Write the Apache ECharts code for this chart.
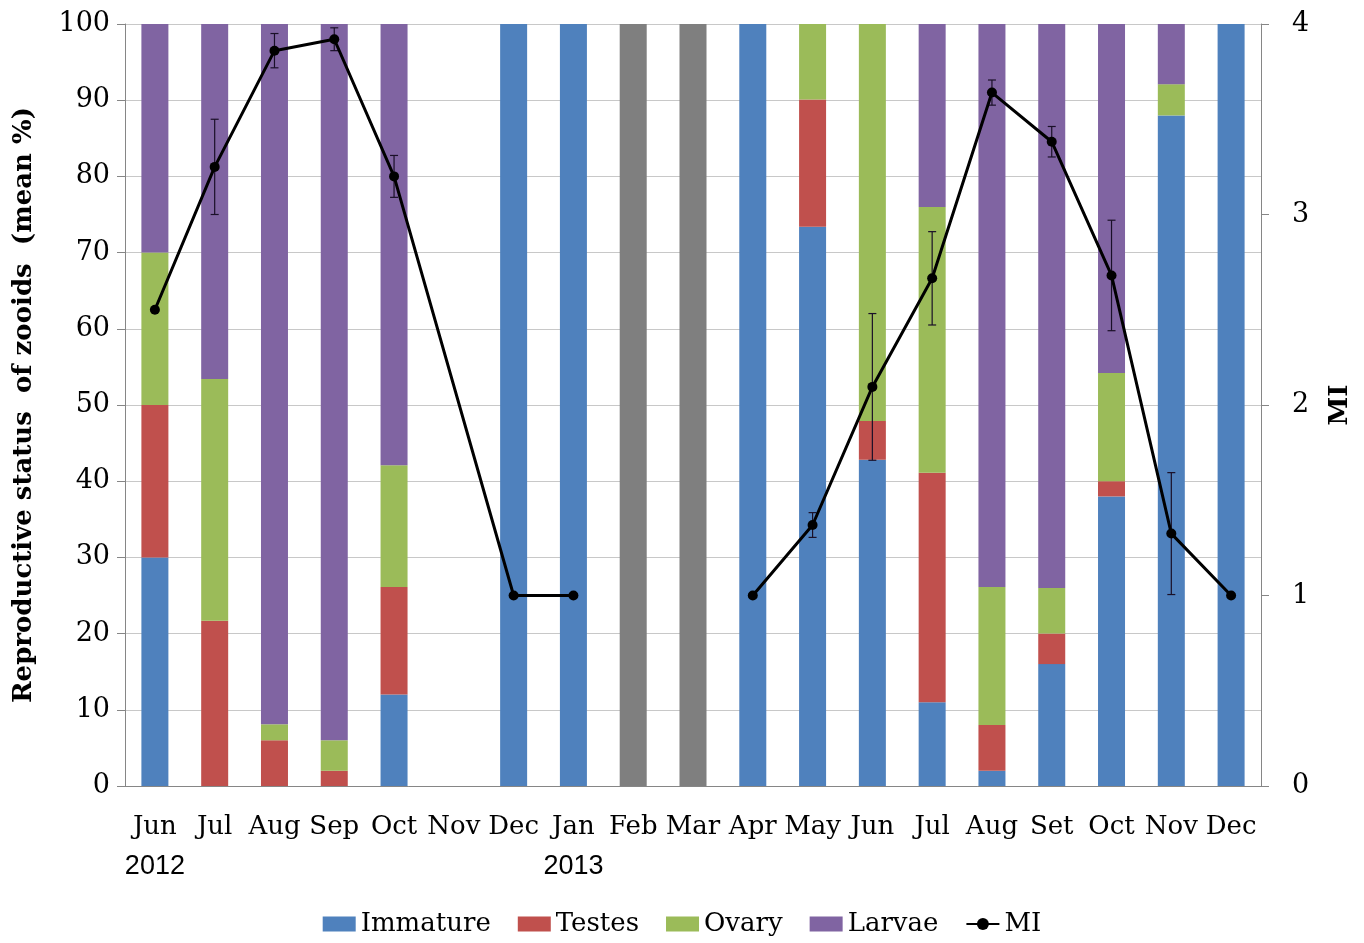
<!DOCTYPE html>
<html>
<head>
<meta charset="utf-8">
<script src="https://cdn.jsdelivr.net/npm/echarts@6/dist/echarts.min.js"></script>
<style>
  html, body { margin: 0; padding: 0; background: #fff; }
  #chart { width: 1364px; height: 943px; }
</style>
</head>
<body>
<div id="chart"></div>
<script>
// Sampling months, June 2012 to December 2013
const months = ['Jun','Jul','Aug','Sep','Oct','Nov','Dec','Jan','Feb','Mar','Apr','May','Jun','Jul','Aug','Set','Oct','Nov','Dec'];
const years  = ['2012','','','','','','','2013','','','','','','','','','','',''];

// Reproductive status of zooids (mean %), stacked
const immature = [30, 0, 0, 0, 12, null, 100, 100, null, null, 100, 73.4, 42.8, 11, 2, 16, 38, 88, 100];
const testes   = [20, 21.7, 6, 2, 14.1, null, 0, 0, null, null, 0, 16.7, 5.1, 30.1, 6, 4, 2, 0, 0];
const ovary    = [20, 31.7, 2.1, 4, 16, null, 0, 0, null, null, 0, 9.9, 52.1, 34.9, 18.1, 6, 14.2, 4.1, 0];
const larvae   = [30, 46.6, 91.9, 94, 57.9, null, 0, 0, null, null, 0, 0, 0, 24, 73.9, 74, 45.8, 7.9, 0];
const noSample = [null, null, null, null, null, null, null, null, 100, 100, null, null, null, null, null, null, null, null, null];

// Maturity index (MI) and its error
const mi      = [2.5, 3.25, 3.86, 3.92, 3.2, null, 1, 1, null, null, 1, 1.37, 2.095, 2.665, 3.64, 3.382, 2.68, 1.325, 1];
const miError = [0, 0.25, 0.09, 0.06, 0.11, 0, 0, 0, 0, 0, 0, 0.065, 0.385, 0.245, 0.066, 0.08, 0.29, 0.32, 0];

// MI is drawn as two runs: 2012 (bridging the unsampled November) and 2013
function miRun(from, to) {
  const out = [];
  for (let i = from; i <= to; i++) if (mi[i] != null) out.push([i, mi[i]]);
  return out;
}
const errData = [];
mi.forEach((v, i) => { if (v != null && miError[i] > 0) errData.push([i, v - miError[i], v + miError[i]]); });

const serif = 'DejaVu Serif';
const sans = 'Liberation Sans';
const chart = echarts.init(document.getElementById('chart'));

function barSeries(name, data, color) {
  return { name, type: 'bar', stack: 'status', data, barWidth: 27,
           itemStyle: { color }, emphasis: { disabled: true } };
}
function miLine(data) {
  return { name: 'MI', type: 'line', yAxisIndex: 1, data, z: 5,
           symbol: 'circle', symbolSize: 10,
           lineStyle: { color: '#000', width: 3 }, itemStyle: { color: '#000' } };
}

chart.setOption({
  animation: false,
  textStyle: { fontFamily: serif },
  grid: { left: 125, right: 103, top: 24, bottom: 157, containLabel: false, outerBoundsMode: 'none' },
  legend: {
    top: 906, left: 'center', itemGap: 27, itemWidth: 33, itemHeight: 15,
    textStyle: { fontFamily: serif, fontSize: 26, color: '#000' },
    data: [
      { name: 'Immature', icon: 'rect' },
      { name: 'Testes', icon: 'rect' },
      { name: 'Ovary', icon: 'rect' },
      { name: 'Larvae', icon: 'rect' },
      'MI'
    ]
  },
  xAxis: {
    type: 'category', data: months,
    axisLine: { lineStyle: { color: '#868686', width: 1 } },
    axisTick: { length: 8, lineStyle: { color: '#868686' } },
    axisLabel: {
      color: '#000', margin: 21, interval: 0,
      formatter: (v, i) => years[i] ? '{m|' + v + '}\n{y|' + years[i] + '}' : '{m|' + v + '}',
      rich: {
        m: { fontFamily: serif, fontSize: 26, lineHeight: 40, color: '#000' },
        y: { fontFamily: sans, fontSize: 27, lineHeight: 40, color: '#000' }
      }
    }
  },
  yAxis: [
    {
      type: 'value', min: 0, max: 100, interval: 10,
      name: 'Reproductive status  of zooids  (mean %)', nameLocation: 'middle', nameGap: 88, nameRotate: 90,
      nameTextStyle: { fontFamily: serif, fontWeight: 'bold', fontSize: 26, color: '#000' },
      axisLine: { show: true, lineStyle: { color: '#868686' } },
      axisTick: { show: true, length: 8, lineStyle: { color: '#868686' } },
      axisLabel: { color: '#000', fontFamily: serif, fontSize: 27, margin: 15 },
      splitLine: { lineStyle: { color: '#c8c8c8', width: 1 } }
    },
    {
      type: 'value', min: 0, max: 4, interval: 1, position: 'right',
      name: 'MI', nameLocation: 'middle', nameGap: 66, nameRotate: 90,
      nameTextStyle: { fontFamily: serif, fontWeight: 'bold', fontSize: 26, color: '#000' },
      axisLine: { show: true, lineStyle: { color: '#868686' } },
      axisTick: { show: true, length: 8, lineStyle: { color: '#868686' } },
      axisLabel: { color: '#000', fontFamily: serif, fontSize: 27, margin: 31 },
      splitLine: { show: false }
    }
  ],
  series: [
    barSeries('Immature', immature, '#4f81bd'),
    barSeries('Testes', testes, '#c0504d'),
    barSeries('Ovary', ovary, '#9bbb59'),
    barSeries('Larvae', larvae, '#8064a2'),
    barSeries('No sample', noSample, '#7f7f7f'),
    {
      name: 'MI error', type: 'custom', yAxisIndex: 1, data: errData, z: 4,
      renderItem: (params, api) => {
        const x = api.value(0);
        const lo = api.coord([x, api.value(1)]);
        const hi = api.coord([x, api.value(2)]);
        const cap = 4;
        const style = { stroke: '#1a1028', lineWidth: 1.2 };
        return { type: 'group', children: [
          { type: 'line', shape: { x1: lo[0], y1: lo[1], x2: hi[0], y2: hi[1] }, style },
          { type: 'line', shape: { x1: lo[0] - cap, y1: lo[1], x2: lo[0] + cap, y2: lo[1] }, style },
          { type: 'line', shape: { x1: hi[0] - cap, y1: hi[1], x2: hi[0] + cap, y2: hi[1] }, style }
        ]};
      }
    },
    miLine(miRun(0, 7)),
    miLine(miRun(10, 18))
  ]
});
</script>
</body>
</html>
